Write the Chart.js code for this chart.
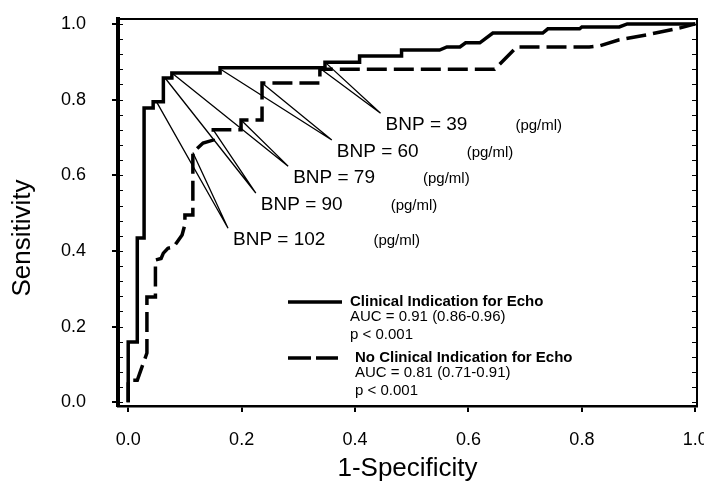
<!DOCTYPE html>
<html>
<head>
<meta charset="utf-8">
<script src="https://cdn.jsdelivr.net/npm/chart.js@4.4.1/dist/chart.umd.min.js"></script>
<style>
  html, body { margin: 0; padding: 0; background: #fff; }
  #wrap { width: 704px; height: 484px; }
</style>
</head>
<body>
<div id="wrap"><canvas id="roc"></canvas></div>
<script>
// ROC curves: x = 1-specificity, y = sensitivity
const clinicalX = [0, 0, 0.016, 0.016, 0.028, 0.028, 0.044, 0.044, 0.062, 0.062, 0.077, 0.077, 0.162, 0.162, 0.347, 0.347, 0.408, 0.408, 0.482, 0.482, 0.549, 0.562, 0.585, 0.595, 0.62, 0.643, 0.731, 0.74, 0.796, 0.80, 0.866, 0.88, 1.0];
const clinicalY = [0, 0.159, 0.159, 0.434, 0.434, 0.778, 0.778, 0.794, 0.794, 0.857, 0.857, 0.870, 0.870, 0.884, 0.884, 0.899, 0.899, 0.915, 0.915, 0.931, 0.931, 0.939, 0.939, 0.95, 0.95, 0.976, 0.976, 0.987, 0.987, 0.992, 0.992, 1.0, 1.0];

const noClinicalX = [0, 0, 0.016, 0.033, 0.033, 0.048, 0.048, 0.058, 0.062, 0.07, 0.08, 0.086, 0.095, 0.1, 0.1, 0.114, 0.114, 0.132, 0.15, 0.15, 0.199, 0.199, 0.236, 0.236, 0.338, 0.338, 0.646, 0.685, 0.813, 0.831, 0.866, 0.914, 0.972, 1.0];
const noClinicalY = [0, 0.058, 0.058, 0.13, 0.278, 0.278, 0.376, 0.38, 0.394, 0.407, 0.41, 0.423, 0.442, 0.47, 0.495, 0.495, 0.66, 0.685, 0.693, 0.72, 0.72, 0.746, 0.746, 0.844, 0.844, 0.88, 0.88, 0.939, 0.939, 0.942, 0.958, 0.971, 0.989, 1.0];

// BNP cut-off pointers: point on each curve and where the label sits
const bnpValues = ['39', '60', '79', '90', '102'];
const bnpSolidX = [0.347, 0.165, 0.077, 0.065, 0.05];
const bnpSolidY = [0.899, 0.878, 0.870, 0.857, 0.794];
const bnpDashX = [0.338, 0.236, 0.199, 0.15, 0.114];
const bnpDashY = [0.883, 0.844, 0.746, 0.72, 0.66];
const bnpLabelX = [0.445, 0.359, 0.282, 0.225, 0.176];
const bnpLabelY = [0.764, 0.693, 0.624, 0.553, 0.46];

const tickValues = [0, 0.2, 0.4, 0.6, 0.8, 1.0];

const legendTitles = ['Clinical Indication for Echo', 'No Clinical Indication for Echo'];
const legendAuc = ['AUC = 0.91 (0.86-0.96)', 'AUC = 0.81 (0.71-0.91)'];
const legendP = ['p < 0.001', 'p < 0.001'];

const FONT = '"Liberation Sans", Arial, Helvetica, sans-serif';

function toPoints(xs, ys) {
    return xs.map((x, i) => ({ x: x, y: ys[i] }));
}

// V-shaped pointers: solid curve -> label -> dashed curve, broken by nulls
const pointerData = [];
bnpValues.forEach((v, i) => {
    pointerData.push({ x: bnpSolidX[i], y: bnpSolidY[i] });
    pointerData.push({ x: bnpLabelX[i], y: bnpLabelY[i] });
    pointerData.push({ x: bnpDashX[i], y: bnpDashY[i] });
    pointerData.push({ x: bnpDashX[i], y: null });
});

const extras = {
    id: 'extras',
    afterDraw(chart) {
        const { ctx, chartArea: a, scales: { x, y } } = chart;
        ctx.save();
        ctx.strokeStyle = '#000';
        ctx.fillStyle = '#000';

        // top and right frame
        ctx.lineWidth = 2;
        ctx.beginPath();
        ctx.moveTo(a.left, a.top);
        ctx.lineTo(a.right, a.top);
        ctx.lineTo(a.right, a.bottom);
        ctx.stroke();

        // minor ticks every 0.04 on left and right
        ctx.lineWidth = 1;
        for (let k = 0; k <= 25; k++) {
            const py = Math.round(y.getPixelForValue(k * 0.04)) + 0.5;
            ctx.beginPath();
            ctx.moveTo(a.left, py);
            ctx.lineTo(a.left + 5, py);
            ctx.moveTo(a.right, py);
            ctx.lineTo(a.right - 5, py);
            ctx.stroke();
        }

        // y axis title, sits a bit below the plot middle like the original
        ctx.save();
        ctx.translate(23, 238);
        ctx.rotate(-Math.PI / 2);
        ctx.textAlign = 'center';
        ctx.textBaseline = 'middle';
        ctx.font = '26px ' + FONT;
        ctx.fillText('Sensitivity', 0, 0);
        ctx.restore();

        // BNP labels
        ctx.textBaseline = 'middle';
        ctx.textAlign = 'left';
        bnpValues.forEach((v, i) => {
            const px = x.getPixelForValue(bnpLabelX[i]) + 5;
            const py = y.getPixelForValue(bnpLabelY[i]) + 12;
            ctx.font = '19px ' + FONT;
            const txt = 'BNP = ' + v;
            ctx.fillText(txt, px, py);
            const w = ctx.measureText(txt).width;
            ctx.font = '15px ' + FONT;
            ctx.fillText('(pg/ml)', px + w + 48, py + 1);
        });

        // legend
        const sx0 = a.left + 170, sx1 = a.left + 224;
        const rows = [a.top + 283, a.top + 339];
        ctx.lineWidth = 3.5;
        ctx.beginPath();
        ctx.moveTo(sx0, rows[0]);
        ctx.lineTo(sx1, rows[0]);
        ctx.stroke();
        ctx.setLineDash([23, 5]);
        ctx.beginPath();
        ctx.moveTo(sx0, rows[1]);
        ctx.lineTo(sx1 - 4, rows[1]);
        ctx.stroke();
        ctx.setLineDash([]);

        const tx = [a.left + 232, a.left + 237];
        rows.forEach((ry, i) => {
            ctx.font = 'bold 15px ' + FONT;
            ctx.fillText(legendTitles[i], tx[i], ry);
            ctx.font = '15px ' + FONT;
            ctx.fillText(legendAuc[i], tx[i], ry + 15);
            ctx.fillText(legendP[i], tx[i], ry + 33);
        });
        ctx.restore();
    }
};

const ctx = document.getElementById('roc').getContext('2d');
const chart = new Chart(ctx, {
    type: 'scatter',
    data: {
        datasets: [{
            label: 'Clinical Indication for Echo',
            data: toPoints(clinicalX, clinicalY),
            showLine: true,
            borderColor: '#000',
            borderWidth: 3.5,
            pointRadius: 0,
            borderJoinStyle: 'miter',
            tension: 0
        }, {
            label: 'No Clinical Indication for Echo',
            data: toPoints(noClinicalX, noClinicalY),
            showLine: true,
            borderColor: '#000',
            borderWidth: 3.5,
            borderDash: [20, 7],
            pointRadius: 0,
            borderJoinStyle: 'miter',
            tension: 0
        }, {
            label: 'BNP pointers',
            data: pointerData,
            showLine: true,
            spanGaps: false,
            borderColor: '#000',
            borderWidth: 1.3,
            pointRadius: 0,
            tension: 0
        }]
    },
    options: {
        responsive: true,
        maintainAspectRatio: false,
        animation: false,
        layout: { padding: { top: 19, right: 7, left: 0, bottom: 0 } },
        plugins: {
            legend: { display: false },
            tooltip: { enabled: false }
        },
        scales: {
            x: {
                type: 'linear',
                min: -0.018,
                max: 1.003,
                afterBuildTicks: (s) => { s.ticks = tickValues.map(v => ({ value: v })); },
                afterFit: (s) => { s.height = 78; s.paddingLeft = 0; s.paddingRight = 0; },
                grid: { drawOnChartArea: false, drawTicks: true, tickLength: 6, color: '#000', lineWidth: 2 },
                border: { display: true, color: '#000', width: 2.5 },
                ticks: {
                    color: '#000',
                    padding: 17,
                    maxRotation: 0,
                    font: { family: FONT, size: 18 },
                    callback: (v) => v.toFixed(1)
                },
                title: {
                    display: true,
                    text: '1-Specificity',
                    color: '#000',
                    font: { family: FONT, size: 26 },
                    padding: { top: 0, bottom: 0 }
                }
            },
            y: {
                type: 'linear',
                min: -0.01,
                max: 1.013,
                afterBuildTicks: (s) => { s.ticks = tickValues.map(v => ({ value: v })); },
                afterFit: (s) => { s.width = 118; s.paddingTop = 0; s.paddingBottom = 0; },
                grid: { drawOnChartArea: false, drawTicks: true, tickLength: 6, color: '#000', lineWidth: 2 },
                border: { display: true, color: '#000', width: 4 },
                ticks: {
                    color: '#000',
                    padding: 26,
                    font: { family: FONT, size: 18 },
                    callback: (v) => v.toFixed(1)
                },
                title: { display: false }
            }
        }
    },
    plugins: [extras]
});
</script>
</body>
</html>
